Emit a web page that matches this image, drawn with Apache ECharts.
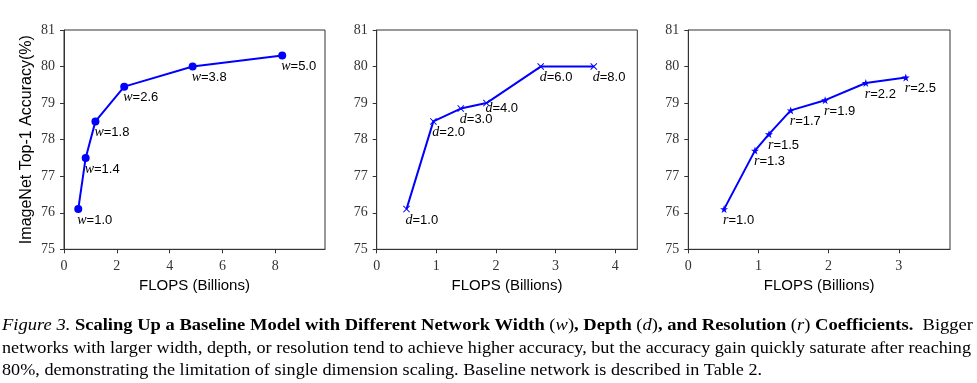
<!DOCTYPE html>
<html>
<head>
<meta charset="utf-8">
<script src="https://cdn.jsdelivr.net/npm/echarts@6/dist/echarts.min.js"></script>
<style>
html,body{margin:0;padding:0;background:#fff;}
#chart{width:977px;height:383px;}
</style>
</head>
<body>
<div id="chart"></div>
<script>
// ---- Data ----
const flopsW = [0.54, 0.82, 1.19, 2.28, 4.87, 8.26];
const accW   = [76.1, 77.5, 78.5, 79.45, 80.0, 80.3];
const coefW  = ['1.0', '1.4', '1.8', '2.6', '3.8', '5.0'];

const flopsD = [0.50, 0.95, 1.41, 1.84, 2.75, 3.64];
const accD   = [76.1, 78.5, 78.85, 79.0, 80.0, 80.0];
const coefD  = ['1.0', '2.0', '3.0', '4.0', '6.0', '8.0'];

const flopsR = [0.51, 0.95, 1.15, 1.46, 1.95, 2.53, 3.10];
const accR   = [76.1, 77.7, 78.15, 78.8, 79.08, 79.55, 79.7];
const coefR  = ['1.0', '1.3', '1.5', '1.7', '1.9', '2.2', '2.5'];

const yTicks = [75, 76, 77, 78, 79, 80, 81];
const xTitle = 'FLOPS (Billions)';
const yTitle = 'ImageNet Top-1 Accuracy(%)';

const captionLine1 = '{it|Figure 3.} {b|Scaling Up a Baseline Model with Different Network Width }{n|(}{iv|w}{n|)}{b|, Depth }{n|(}{iv|d}{n|)}{b|, and Resolution }{n|(}{iv|r}{n|)}{b| Coefficients.}{n|  Bigger}';
const captionLine2 = 'networks with larger width, depth, or resolution tend to achieve higher accuracy, but the accuracy gain quickly saturate after reaching';
const captionLine3 = '80%, demonstrating the limitation of single dimension scaling. Baseline network is described in Table 2.';

// ---- Layout ----
const grids = [
  {left: 64, top: 30, width: 261, height: 219.3, xmax: 9.88, xint: 2},
  {left: 376.7, top: 30, width: 260.6, height: 219.3, xmax: 4.37, xint: 1},
  {left: 688.3, top: 30, width: 261.7, height: 219.3, xmax: 3.73, xint: 1}
];
const BLUE = '#0000ff';
const AXC = '#333333';
const serif = 'Liberation Serif';
const sans = 'Liberation Sans';

const xSymbol = 'path://M0,1L1,0L5,4L9,0L10,1L6,5L10,9L9,10L5,6L1,10L0,9L4,5Z';
const starSymbol = 'path://M50,0L61.8,35.1L98.1,35.1L68.8,56.7L79.9,91.4L50,70L20.1,91.4L31.2,56.7L1.9,35.1L38.2,35.1Z';

const rich = {
  v: {fontFamily: serif, fontStyle: 'italic', fontSize: 14, color: '#000'},
  n: {fontFamily: sans, fontSize: 13, color: '#000'}
};

function mkSeries(idx, xs, ys, coefs, letter, symbol, size, overrides) {
  const data = xs.map((x, i) => {
    const item = {value: [x, ys[i]], coef: coefs[i]};
    if (overrides && overrides[i]) item.label = overrides[i];
    return item;
  });
  return {
    type: 'line',
    xAxisIndex: idx, yAxisIndex: idx,
    data: data,
    symbol: symbol, symbolSize: size,
    showAllSymbol: true,
    lineStyle: {color: BLUE, width: 2},
    itemStyle: {color: BLUE},
    label: {
      show: true,
      position: ['50%', '50%'],
      offset: [-1, 11],
      align: 'left',
      verticalAlign: 'middle',
      formatter: p => '{v|' + letter + '}{n|=' + p.data.coef + '}',
      rich: rich
    },
    animation: false,
    z: 3
  };
}

const xAxes = grids.map((g, i) => ({
  type: 'value', gridIndex: i, min: 0, max: g.xmax, interval: g.xint,
  name: xTitle, nameLocation: 'middle', nameGap: 27,
  nameTextStyle: {fontFamily: sans, fontSize: 15, color: '#000'},
  axisLine: {show: true, lineStyle: {color: AXC, width: 1}},
  axisTick: {show: true, inside: false, length: 4, lineStyle: {color: AXC}},
  axisLabel: {fontFamily: serif, fontSize: 14, color: '#333', margin: 10, showMaxLabel: false},
  splitLine: {show: false}
}));
const yAxes = grids.map((g, i) => ({
  type: 'value', gridIndex: i, min: yTicks[0], max: yTicks[yTicks.length - 1], interval: 1,
  name: i === 0 ? yTitle : '', nameLocation: 'middle', nameGap: 29,
  nameTextStyle: {fontFamily: sans, fontSize: 16, color: '#000'},
  axisLine: {show: true, lineStyle: {color: AXC, width: 1}},
  axisTick: {show: true, inside: false, length: 4, lineStyle: {color: AXC}},
  axisLabel: {fontFamily: serif, fontSize: 14, color: '#333', margin: 9},
  splitLine: {show: false}
}));

// caption width fitting
const ctx = document.createElement('canvas').getContext('2d');
function measure(font, txt) { ctx.font = font; return ctx.measureText(txt).width; }
const CAP = 17;
const capRich = {
  it: {fontFamily: serif, fontStyle: 'italic', fontSize: CAP, color: '#000'},
  b: {fontFamily: serif, fontWeight: 'bold', fontSize: CAP, color: '#000'},
  n: {fontFamily: serif, fontSize: CAP, color: '#000'},
  iv: {fontFamily: serif, fontStyle: 'italic', fontSize: CAP, color: '#000'}
};
function richWidth(str) {
  let w = 0;
  const re = /\{(\w+)\|([^}]*)\}/g; let m;
  while ((m = re.exec(str)) !== null) {
    const s = capRich[m[1]];
    w += measure((s.fontStyle || 'normal') + ' ' + (s.fontWeight || 'normal') + ' ' + CAP + 'px "' + serif + '"', m[2]);
  }
  const outside = str.replace(/\{(\w+)\|([^}]*)\}/g, '');
  w += measure('normal normal ' + CAP + 'px "' + serif + '"', outside);
  return w;
}
const w1 = richWidth(captionLine1);
const w2 = measure('normal normal ' + CAP + 'px "' + serif + '"', captionLine2);
const s1 = 971 / w1;
const s2 = 969 / w2;

const graphics = [
  {type: 'text', x: 2, y: 326, scaleX: s1, style: {text: captionLine1, rich: capRich, verticalAlign: 'middle', align: 'left', font: CAP + 'px "' + serif + '"', fill: '#000'}},
  {type: 'text', x: 2, y: 348.5, scaleX: s2, style: {text: captionLine2, verticalAlign: 'middle', align: 'left', font: CAP + 'px "' + serif + '"', fill: '#000'}},
  {type: 'text', x: 2, y: 370.5, scaleX: s2, style: {text: captionLine3, verticalAlign: 'middle', align: 'left', font: CAP + 'px "' + serif + '"', fill: '#000'}}
];

const chart = echarts.init(document.getElementById('chart'), null, {renderer: 'canvas'});
chart.setOption({
  animation: false,
  backgroundColor: '#fff',
  grid: grids.map(g => ({left: g.left, top: g.top, width: g.width, height: g.height, show: true, borderColor: AXC, borderWidth: 1, backgroundColor: 'transparent'})),
  xAxis: xAxes,
  yAxis: yAxes,
  series: [
    mkSeries(0, flopsW, accW, coefW, 'w', 'circle', 8),
    mkSeries(1, flopsD, accD, coefD, 'd', xSymbol, 7, {3: {offset: [-1, 5]}}),
    mkSeries(2, flopsR, accR, coefR, 'r', starSymbol, 8)
  ],
  graphic: graphics
});
</script>
</body>
</html>
